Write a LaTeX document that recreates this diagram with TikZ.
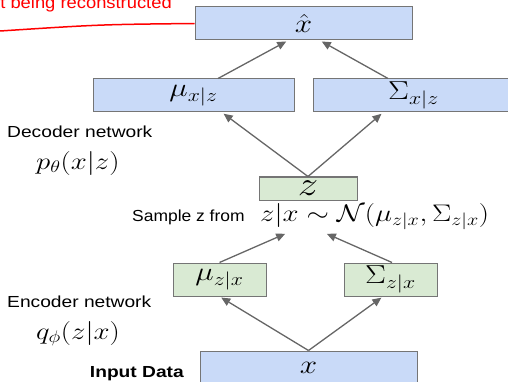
\RequirePackage{fix-cm}
\documentclass[tikz,border=0pt]{standalone}
\usepackage[no-math]{fontspec}
\setmainfont{Liberation Sans}
\usepackage{graphicx}
\usetikzlibrary{arrows.meta,positioning}
\definecolor{boxblue}{HTML}{C9DAF8}
\definecolor{boxgreen}{HTML}{D9EAD3}
\definecolor{edgegray}{HTML}{757575}
\definecolor{arrgray}{HTML}{666666}
\newcommand{\hwide}[1]{\scalebox{1.2}[1]{#1}}

\begin{document}
\begin{tikzpicture}[x=1pt, y=-1pt,
  bbox/.style={draw=edgegray, fill=boxblue, line width=1pt, inner sep=0pt, minimum height=33pt, font=\fontsize{26}{30}\selectfont},
  gbox/.style={bbox, fill=boxgreen},
  arr/.style={-{Triangle[length=9pt,width=8pt]}, draw=arrgray, line width=1.3pt, shorten >=2pt},
  txt/.style={inner sep=0pt, font=\fontsize{16}{19}\selectfont},
  mth/.style={inner sep=0pt, font=\fontsize{24}{28}\selectfont}]
\useasboundingbox (0,0) rectangle (508,382);

% Decoder side
\node[bbox, minimum width=217pt] (xhat) at (303.5,23.5) {\hwide{$\hat{x}$}};
\node[bbox, minimum width=201pt] (muxz) at (193.5,95.5) {\hwide{$\mu_{x|z}$}};
\node[bbox, minimum width=201pt] (sigxz) at (413.5,95.5) {\hwide{$\Sigma_{x|z}$}};
\node[gbox, minimum width=98pt, minimum height=23pt, font=\fontsize{34}{36}\selectfont] (z) at (308,188.5) {\hwide{$z$}};

% Encoder side
\node[gbox, minimum width=93pt] (muzx) at (219.5,279.5) {\hwide{$\mu_{z|x}$}};
\node[gbox, minimum width=93pt] (sigzx) at (390.5,279.5) {\hwide{$\Sigma_{z|x}$}};
\node[bbox, minimum width=217pt] (xin) at (308.5,367.5) {\hwide{$x$}};

% Labels
\node[txt, font=\fontsize{17}{20}\selectfont, text=red, anchor=base east] (recon) at (172,9) {\scalebox{1.08}[1]{t being reconstructed}};
\node[txt, anchor=base west] (dec) at (7,138) {\hwide{Decoder network}};
\node[mth, anchor=base west] (ptheta) at (36,169) {\hwide{$p_\theta(x|z)$}};
\node[txt, anchor=base west] (sample) at (132,221) {\scalebox{1.09}[1]{Sample z from}};
\node[mth, anchor=base west] (dist) at (260,221) {\hwide{$z|x \sim \mathcal{N}(\mu_{z|x},\Sigma_{z|x})$}};
\node[txt, anchor=base west] (enc) at (7,307) {\hwide{Encoder network}};
\node[mth, anchor=base west] (qphi) at (36,339) {\hwide{$q_\phi(z|x)$}};
\node[txt, font=\fontsize{16}{19}\selectfont\bfseries, anchor=base east] (input) at (184,377) {\hwide{Input Data}};

% Connectors
\coordinate (redend) at (0,31);
\coordinate (s1) at (287,233);
\coordinate (s2) at (325,233);
\draw[red, line width=1.5pt] (xhat.west) .. controls (100,24.5) .. (redend);

\draw[arr] (xin.north) -- (muzx.south);
\draw[arr] (xin.north) -- ([xshift=-7.5pt]sigzx.south);
\draw[arr] (muzx.north) -- (s1);
\draw[arr] ([xshift=1.5pt]sigzx.north) -- (s2);
\draw[arr] (z.north) -- ([xshift=28.5pt]muxz.south);
\draw[arr] (z.north) -- ([xshift=-30.5pt]sigxz.south);
\draw[arr] ([xshift=24.5pt]muxz.north) -- ([xshift=-15.5pt]xhat.south);
\draw[arr] ([xshift=-25.5pt]sigxz.north) -- ([xshift=16.5pt]xhat.south);
\end{tikzpicture}
\end{document}
